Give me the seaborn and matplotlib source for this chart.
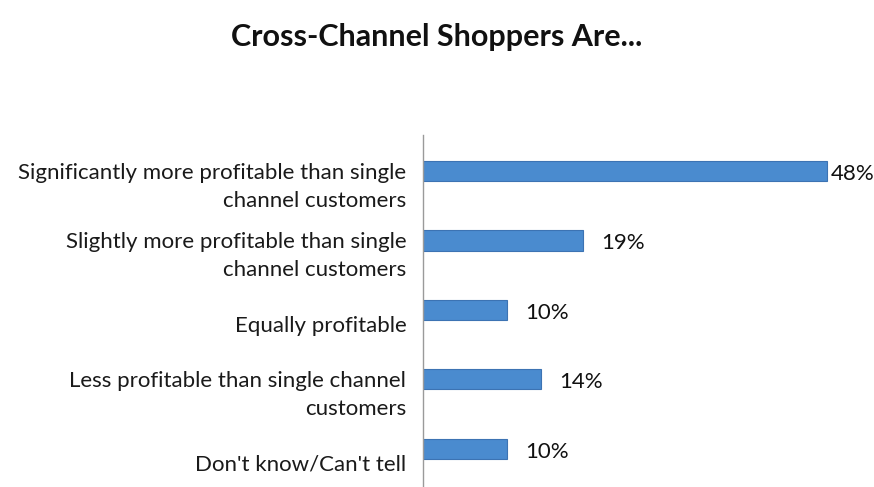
import matplotlib
matplotlib.use("Agg")
import matplotlib.pyplot as plt
from matplotlib.transforms import ScaledTranslation
import seaborn as sns
import pandas as pd

categories = [
    "Significantly more profitable than single\nchannel customers",
    "Slightly more profitable than single\nchannel customers",
    "Equally profitable",
    "Less profitable than single channel\ncustomers",
    "Don't know/Can't tell",
]
values = [48, 19, 10, 14, 10]
value_labels = ["48%", "19%", "10%", "14%", "10%"]
title = "Cross-Channel Shoppers Are..."

df = pd.DataFrame({"category": categories, "value": values})

sns.set_theme(style="white")
plt.rcParams["font.family"] = ["Lato", "DejaVu Sans"]

fig = plt.figure(figsize=(8.74, 4.87), dpi=100)
ax = fig.add_axes([0.484, 0.0, 0.483, 0.723])

bar_color = "#4a8bcf"
sns.barplot(data=df, x="value", y="category", orient="h", color=bar_color,
            width=0.29, saturation=1, ax=ax, edgecolor="#3c73b3", linewidth=0.8)

ax.set_xlim(0, 50.2)
ax.set_ylim(len(categories) - 0.45, -0.52)
ax.set_xlabel("")
ax.set_ylabel("")
ax.set_xticks([])

for side in ["top", "right", "bottom"]:
    ax.spines[side].set_visible(False)
ax.spines["left"].set_color("#9a9a9a")
ax.spines["left"].set_linewidth(1.0)

ax.tick_params(axis="y", length=0, pad=12, labelsize=16, labelcolor="#1a1a1a")
for lab in ax.get_yticklabels():
    lab.set_linespacing(1.5)
    dy = -0.10 if "\n" in lab.get_text() else -0.14
    lab.set_transform(lab.get_transform() + ScaledTranslation(0, dy, fig.dpi_scale_trans))

# value labels at the bar ends
val_shift = ScaledTranslation(0, -0.03, fig.dpi_scale_trans)
for i, (v, txt) in enumerate(zip(values, value_labels)):
    pad = 0.45 if v == max(values) else 2.2
    ax.text(v + pad, i, txt, va="center", ha="left", fontsize=16, color="#111111",
            transform=ax.transData + val_shift)

fig.text(0.50, 0.924, title, ha="center", va="center", fontsize=22,
         fontweight="bold", color="#111111")

fig.savefig("out.png", dpi=100)
